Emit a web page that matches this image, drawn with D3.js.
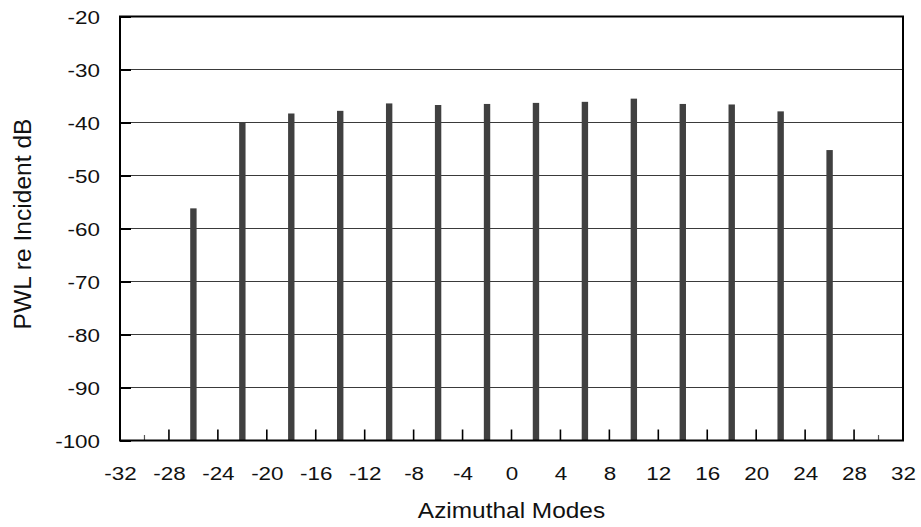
<!DOCTYPE html>
<html>
<head>
<meta charset="utf-8">
<script src="https://cdn.jsdelivr.net/npm/d3@7"></script>
<style>
  html, body { margin: 0; padding: 0; background: #fff; }
  svg text { font-family: "Liberation Sans", Arial, Helvetica, sans-serif; fill: #111; }
</style>
</head>
<body>
<svg id="chart" width="921" height="527"></svg>
<script>
// Azimuthal mode numbers and their power-weighted level (dB re incident)
const modes = [-26, -22, -18, -14, -10, -6, -2, 2, 6, 10, 14, 18, 22, 26];
const pwl = [-56.2, -40.0, -38.3, -37.8, -36.4, -36.7, -36.5, -36.3, -36.1, -35.5, -36.5, -36.6, -37.9, -45.2];

const xTickValues = [-32, -28, -24, -20, -16, -12, -8, -4, 0, 4, 8, 12, 16, 20, 24, 28, 32];
const xInnerTicks = [-28, -24, -20, -16, -12, -8, -4, 0, 4, 8, 12, 16, 20, 24, 28];
const xEdgeTicks = [-30, 30];
const yTickValues = [-20, -30, -40, -50, -60, -70, -80, -90, -100];
const yGridValues = [-30, -40, -50, -60, -70, -80, -90];

const margin = { left: 120, top: 16.5, right: 18, bottom: 86.5 };
const W = 921, H = 527;
const svg = d3.select("#chart");

const x = d3.scaleLinear().domain([-32, 32]).range([margin.left, W - margin.right]);
const y = d3.scaleLinear().domain([-100, -20]).range([H - margin.bottom, margin.top]);

const tickFs = 19, tickStretch = 1.18;   // slightly wide lettering for numbers
const label = d => String(d);            // plain hyphen-minus

// horizontal grid lines
svg.append("g").selectAll("line").data(yGridValues).join("line")
  .attr("x1", x(-32)).attr("x2", x(32))
  .attr("y1", d => y(d)).attr("y2", d => y(d))
  .attr("stroke", "#3a3a3a").attr("stroke-width", 1.2);

// bars
svg.append("g").selectAll("rect").data(modes).join("rect")
  .attr("x", d => x(d) - 3.2)
  .attr("width", 6.4)
  .attr("y", (d, i) => y(pwl[i]))
  .attr("height", (d, i) => y(-100) - y(pwl[i]))
  .attr("fill", "#404040");

// y axis: inward ticks, labels on the left
const yAxis = d3.axisLeft(y).tickValues(yTickValues).tickSize(-11).tickFormat(label);
const gy = svg.append("g").attr("transform", `translate(${x(-32)},0)`).call(yAxis);
gy.select(".domain").remove();
gy.selectAll(".tick line").attr("stroke", "#000").attr("stroke-width", 2);
gy.selectAll(".tick text")
  .attr("font-size", tickFs)
  .attr("x", -20 / tickStretch)
  .attr("dy", "0.36em")
  .attr("transform", `scale(${tickStretch},1)`);

// x axis labels
const xAxis = d3.axisBottom(x).tickValues(xTickValues).tickSize(0).tickFormat(label);
const gx = svg.append("g").attr("transform", `translate(0,${y(-100)})`).call(xAxis);
gx.select(".domain").remove();
gx.selectAll(".tick text")
  .attr("font-size", tickFs)
  .attr("y", 39.5).attr("dy", null)
  .attr("transform", `scale(${tickStretch},1)`);

// inward x ticks between bars
svg.append("g").selectAll("line").data(xInnerTicks).join("line")
  .attr("x1", d => x(d)).attr("x2", d => x(d))
  .attr("y1", y(-100)).attr("y2", y(-100) - 11)
  .attr("stroke", "#000").attr("stroke-width", 1.6);
svg.append("g").selectAll("line").data(xEdgeTicks).join("line")
  .attr("x1", d => x(d)).attr("x2", d => x(d))
  .attr("y1", y(-100)).attr("y2", y(-100) - 5.5)
  .attr("stroke", "#555").attr("stroke-width", 1.2);

// plot frame
svg.append("rect")
  .attr("x", x(-32)).attr("y", y(-20))
  .attr("width", x(32) - x(-32)).attr("height", y(-100) - y(-20))
  .attr("fill", "none").attr("stroke", "#000").attr("stroke-width", 2);

// axis titles
const cx = (x(-32) + x(32)) / 2;
svg.append("text")
  .attr("transform", `translate(${cx},518) scale(1.11,1)`)
  .attr("text-anchor", "middle").attr("font-size", 22)
  .text("Azimuthal Modes");
svg.append("text")
  .attr("transform", `translate(31,224) rotate(-90)`)
  .attr("text-anchor", "middle").attr("font-size", 24.6)
  .text("PWL re Incident dB");
</script>
</body>
</html>
